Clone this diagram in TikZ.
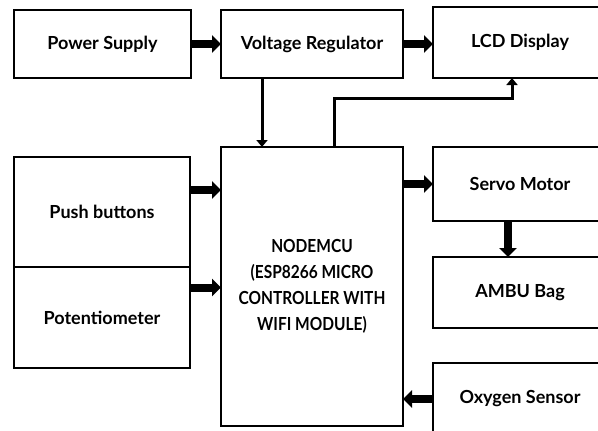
\documentclass[tikz,border=0pt]{standalone}
\usepackage{fontspec}
\setmainfont{Lato}
\usetikzlibrary{arrows.meta}

\tikzset{
  blk/.style={anchor=north west, outer sep=0, inner sep=0, draw, line width=1.3pt, align=center,
    font=\bfseries\fontsize{18}{26}\selectfont},
  fatarrow/.style={line width=8pt, -{Triangle[width=17pt,length=9pt]}},
  thinarrow/.style={line width=3pt, -{Triangle[width=11pt,length=7pt]}},
}

\begin{document}
\begin{tikzpicture}[x=1pt, y=-1pt]
      \path[use as bounding box, clip] (0,0) rectangle (598,431);

      \node[blk, minimum width=177pt, minimum height=68pt] (pwr) at (14,10) {Power Supply};
      \node[blk, minimum width=182pt, minimum height=68pt] (vreg) at (221,10) {Voltage Regulator};
      \node[blk, minimum width=174pt, minimum height=71pt] (lcd) at (433,7) {LCD Display};

      \node[blk, minimum width=176pt, minimum height=110pt] (push) at (14,157) {Push buttons};
      \node[blk, minimum width=176pt, minimum height=101pt] (pot) at (14,267) {Potentiometer};

      \node[blk, minimum width=182pt, minimum height=279pt] (mcu) at (221,147)
        {\scalebox{0.86}[1]{\begin{tabular}{@{}c@{}}NODEMCU\\(ESP8266 MICRO\\CONTROLLER WITH\\WIFI MODULE)\end{tabular}}};

      \node[blk, minimum width=174pt, minimum height=74pt] (servo) at (433,147) {Servo Motor};
      \node[blk, minimum width=174pt, minimum height=71pt] (ambu) at (433,257) {AMBU Bag};
      \node[blk, minimum width=174pt, minimum height=72pt] (oxy) at (433,363) {Oxygen Sensor};

      % power path
      \draw[fatarrow] (pwr.east) -- (vreg.west);
      \draw[fatarrow] (vreg.east) -- (vreg.east -| lcd.west);
      \draw[thinarrow] ([xshift=-50pt]vreg.south) -- ([xshift=-50pt]vreg.south |- mcu.north);
      \draw[thinarrow] ([xshift=22pt]mcu.north) |- ([xshift=-8pt, yshift=-20pt]lcd.south) -- ([xshift=-8pt]lcd.south);

      % inputs
      \draw[fatarrow] ([yshift=22pt]push.east) -- ([yshift=22pt]push.east -| mcu.west);
      \draw[fatarrow] ([yshift=30pt]pot.east) -- ([yshift=30pt]pot.east -| mcu.west);

      % outputs
      \draw[fatarrow] (servo.west -| mcu.east) -- (servo.west);
      \draw[fatarrow] ([xshift=-12pt]servo.south) -- ([xshift=-12pt]ambu.north);
      \draw[fatarrow] (oxy.west) -- (oxy.west -| mcu.east);
    \end{tikzpicture}
\end{document}
